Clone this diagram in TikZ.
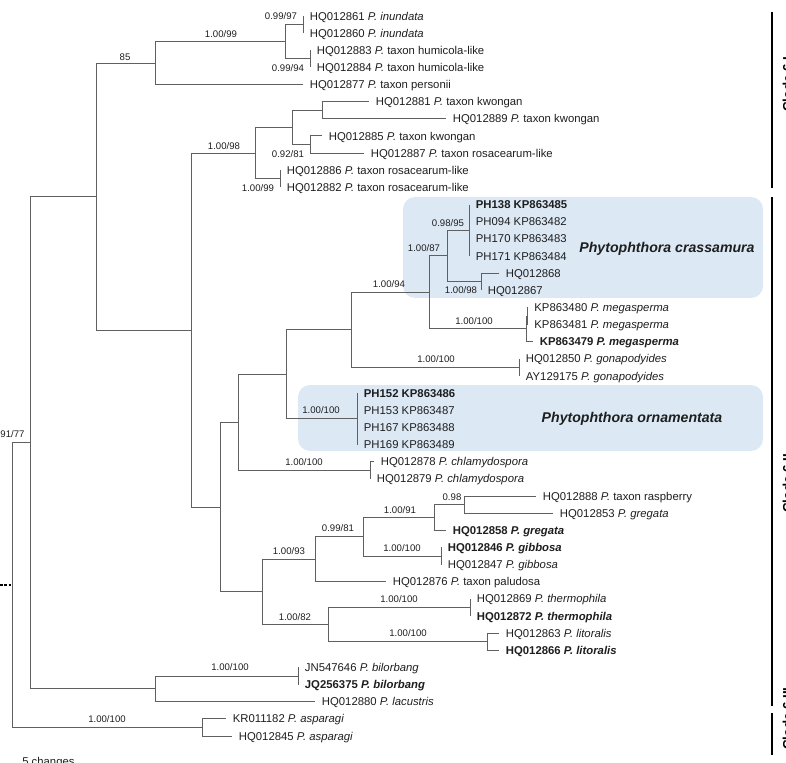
\documentclass[tikz,border=0pt]{standalone}
\usepackage{fontspec}
\setmainfont{Liberation Sans}
\usepackage{xcolor}
\definecolor{branchgray}{RGB}{96,96,96}
\definecolor{inkgray}{RGB}{30,30,30}
\definecolor{cladeblue}{RGB}{220,233,245}
\usepackage{tikz}
\tikzset{
  branch/.style={draw=branchgray, line width=0.75pt},
  leaf/.style={anchor=west, inner xsep=5pt, inner ysep=0pt,
               text height=6.1pt, text depth=0pt,
               font=\fontsize{8.5}{10}\selectfont, text=inkgray},
  supp/.style={inner sep=0pt, font=\fontsize{7.2}{8}\selectfont, text=inkgray},
  spname/.style={font=\fontsize{10.6}{12}\selectfont\bfseries\itshape, text=inkgray},
  cladebox/.style={fill=cladeblue, rounded corners=9pt},
  cladebar/.style={draw=black, line width=1.8pt},
  cladelab/.style={rotate=90, anchor=north west, inner sep=0pt,
                   font=\fontsize{10}{12}\selectfont\bfseries},
  rootstub/.style={draw=black, line width=1.2pt, dash pattern=on 2pt off 1.2pt},
}

\begin{document}
\begin{tikzpicture}[x=0.75pt, y=-0.75pt]
\useasboundingbox (0,0) rectangle (786,763);
\clip (0,0) rectangle (786,763);

% shaded boxes for the two new species
\fill[cladebox] (403,197) rectangle (763,298);
\fill[cladebox] (298,385) rectangle (763,451);
\node[spname] (tCras) at (667,249) {Phytophthora crassamura};
\node[spname] (tOrn) at (632,419) {Phytophthora ornamentata};

% internal nodes
\coordinate (stub) at (0,585.1);
\coordinate (root) at (12,585.1);
\coordinate (nK) at (30,442.7);
\coordinate (nI) at (96,196.6);
\coordinate (n85) at (155,63.1);
\coordinate (nIH) at (285,41.7);
\coordinate (nInu) at (303,24.6);
\coordinate (nHum) at (310,58.9);
\coordinate (nH) at (191,330.2);
\coordinate (n98) at (255,153.2);
\coordinate (nKK) at (292,127.4);
\coordinate (nKw) at (322,110.3);
\coordinate (nKR) at (310,144.6);
\coordinate (nRos) at (280,178.9);
\coordinate (nG) at (220,507.1);
\coordinate (nC) at (238,422.4);
\coordinate (nB) at (286,374.4);
\coordinate (nA) at (351,329.9);
\coordinate (n94) at (429,292.4);
\coordinate (nCras) at (447,256.0);
\coordinate (nPH) at (469,230.3);
\coordinate (nHQ) at (481,281.7);
\coordinate (nMeg) at (526,328.9);
\coordinate (nMeg2) at (527.5,316.0);
\coordinate (nGon) at (519,367.4);
\coordinate (nOrn) at (357,418.9);
\coordinate (nChl) at (370,470.3);
\coordinate (nF) at (262,591.9);
\coordinate (nD) at (315,559.2);
\coordinate (nGG) at (363,536.7);
\coordinate (nGreg) at (434,517.4);
\coordinate (nRasp) at (464,504.6);
\coordinate (nGib) at (441,556.0);
\coordinate (nE) at (328,624.6);
\coordinate (nTh) at (470,607.4);
\coordinate (nLit) at (487,641.7);
\coordinate (nJ) at (155,688.9);
\coordinate (nBil) at (298,676.0);
\coordinate (nAsp) at (202,727.4);

% taxa
\node[leaf] (l0) at (303,16.0) {HQ012861 \textit{P. inundata}};
\node[leaf] (l1) at (303,33.1) {HQ012860 \textit{P. inundata}};
\node[leaf] (l2) at (310,50.3) {HQ012883 \textit{P.} taxon humicola-like};
\node[leaf] (l3) at (310,67.4) {HQ012884 \textit{P.} taxon humicola-like};
\node[leaf] (l4) at (303,84.6) {HQ012877 \textit{P.} taxon personii};
\node[leaf] (l5) at (369,101.7) {HQ012881 \textit{P.} taxon kwongan};
\node[leaf] (l6) at (446,118.9) {HQ012889 \textit{P.} taxon kwongan};
\node[leaf] (l7) at (322,136.0) {HQ012885 \textit{P.} taxon kwongan};
\node[leaf] (l8) at (364,153.1) {HQ012887 \textit{P.} taxon rosacearum-like};
\node[leaf] (l9) at (280,170.3) {HQ012886 \textit{P.} taxon rosacearum-like};
\node[leaf] (l10) at (280,187.4) {HQ012882 \textit{P.} taxon rosacearum-like};
\node[leaf] (l11) at (469,204.6) {\textbf{PH138 KP863485}};
\node[leaf] (l12) at (469,221.7) {PH094 KP863482};
\node[leaf] (l13) at (469,238.9) {PH170 KP863483};
\node[leaf] (l14) at (469,256.0) {PH171 KP863484};
\node[leaf] (l15) at (499,273.1) {HQ012868};
\node[leaf] (l16) at (481,290.3) {HQ012867};
\node[leaf] (l17) at (527.5,307.4) {KP863480 \textit{P. megasperma}};
\node[leaf] (l18) at (527.5,324.6) {KP863481 \textit{P. megasperma}};
\node[leaf] (l19) at (533,341.7) {\textbf{KP863479 \textit{P. megasperma}}};
\node[leaf] (l20) at (519,358.9) {HQ012850 \textit{P. gonapodyides}};
\node[leaf] (l21) at (519,376.0) {AY129175 \textit{P. gonapodyides}};
\node[leaf] (l22) at (357,393.1) {\textbf{PH152 KP863486}};
\node[leaf] (l23) at (357,410.3) {PH153 KP863487};
\node[leaf] (l24) at (357,427.4) {PH167 KP863488};
\node[leaf] (l25) at (357,444.6) {PH169 KP863489};
\node[leaf] (l26) at (374,461.7) {HQ012878 \textit{P. chlamydospora}};
\node[leaf] (l27) at (370,478.9) {HQ012879 \textit{P. chlamydospora}};
\node[leaf] (l28) at (536,496.0) {HQ012888 \textit{P.} taxon raspberry};
\node[leaf] (l29) at (553,513.1) {HQ012853 \textit{P. gregata}};
\node[leaf] (l30) at (446,530.3) {\textbf{HQ012858 \textit{P. gregata}}};
\node[leaf] (l31) at (441,547.4) {\textbf{HQ012846 \textit{P. gibbosa}}};
\node[leaf] (l32) at (441,564.6) {HQ012847 \textit{P. gibbosa}};
\node[leaf] (l33) at (386,581.7) {HQ012876 \textit{P.} taxon paludosa};
\node[leaf] (l34) at (470,598.9) {HQ012869 \textit{P. thermophila}};
\node[leaf] (l35) at (470,616.0) {\textbf{HQ012872 \textit{P. thermophila}}};
\node[leaf] (l36) at (499,633.1) {HQ012863 \textit{P. litoralis}};
\node[leaf] (l37) at (499,650.3) {\textbf{HQ012866 \textit{P. litoralis}}};
\node[leaf] (l38) at (298,667.4) {JN547646 \textit{P. bilorbang}};
\node[leaf] (l39) at (298,684.6) {\textbf{JQ256375 \textit{P. bilorbang}}};
\node[leaf] (l40) at (315,701.7) {HQ012880 \textit{P. lacustris}};
\node[leaf] (l41) at (226,718.9) {KR011182 \textit{P. asparagi}};
\node[leaf] (l42) at (232,736.0) {HQ012845 \textit{P. asparagi}};
\node[leaf, inner xsep=0pt] (scale) at (22,761) {5 changes};

% branches
\draw[rootstub] (stub) -- (root);
\draw[branch] (root) |- (nK) (root) |- (nAsp);
\draw[branch] (nK) |- (nI) (nK) |- (nJ);
\draw[branch] (nI) |- (n85) (nI) |- (nH);
\draw[branch] (n85) |- (nIH) (n85) |- (l4.west);
\draw[branch] (nIH) |- (nInu) (nIH) |- (nHum);
\draw[branch] (nInu) |- (l0.west) (nInu) |- (l1.west);
\draw[branch] (nHum) |- (l2.west) (nHum) |- (l3.west);
\draw[branch] (nH) |- (n98) (nH) |- (nG);
\draw[branch] (n98) |- (nKK) (n98) |- (nRos);
\draw[branch] (nKK) |- (nKw) (nKK) |- (nKR);
\draw[branch] (nKw) |- (l5.west) (nKw) |- (l6.west);
\draw[branch] (nKR) |- (l7.west) (nKR) |- (l8.west);
\draw[branch] (nRos) |- (l9.west) (nRos) |- (l10.west);
\draw[branch] (nG) |- (nC) (nG) |- (nF);
\draw[branch] (nC) |- (nB) (nC) |- (nChl);
\draw[branch] (nB) |- (nA) (nB) |- (nOrn);
\draw[branch] (nA) |- (n94) (nA) |- (nGon);
\draw[branch] (n94) |- (nCras) (n94) |- (nMeg);
\draw[branch] (nCras) |- (nPH) (nCras) |- (nHQ);
\draw[branch] (nPH) |- (l11.west) (nPH) |- (l12.west) (nPH) |- (l13.west) (nPH) |- (l14.west);
\draw[branch] (nHQ) |- (l15.west) (nHQ) |- (l16.west);
\draw[branch] (nMeg) |- (nMeg2) (nMeg) |- (l19.west);
\draw[branch] (nMeg2) |- (l17.west) (nMeg2) |- (l18.west);
\draw[branch] (nGon) |- (l20.west) (nGon) |- (l21.west);
\draw[branch] (nOrn) |- (l22.west) (nOrn) |- (l23.west) (nOrn) |- (l24.west) (nOrn) |- (l25.west);
\draw[branch] (nChl) |- (l26.west) (nChl) |- (l27.west);
\draw[branch] (nF) |- (nD) (nF) |- (nE);
\draw[branch] (nD) |- (nGG) (nD) |- (l33.west);
\draw[branch] (nGG) |- (nGreg) (nGG) |- (nGib);
\draw[branch] (nGreg) |- (nRasp) (nGreg) |- (l30.west);
\draw[branch] (nRasp) |- (l28.west) (nRasp) |- (l29.west);
\draw[branch] (nGib) |- (l31.west) (nGib) |- (l32.west);
\draw[branch] (nE) |- (nTh) (nE) |- (nLit);
\draw[branch] (nTh) |- (l34.west) (nTh) |- (l35.west);
\draw[branch] (nLit) |- (l36.west) (nLit) |- (l37.west);
\draw[branch] (nJ) |- (nBil) (nJ) |- (l40.west);
\draw[branch] (nBil) |- (l38.west) (nBil) |- (l39.west);
\draw[branch] (nAsp) |- (l41.west) (nAsp) |- (l42.west);

% support values (posterior probability / bootstrap)
\node[supp] (s1) at (281,16.5) {0.99/97};
\node[supp] (s2) at (221,34) {1.00/99};
\node[supp] (s3) at (125,57) {85};
\node[supp] (s4) at (288,68) {0.99/94};
\node[supp] (s5) at (224,146) {1.00/98};
\node[supp] (s6) at (288,154) {0.92/81};
\node[supp] (s7) at (258,188) {1.00/99};
\node[supp] (s8) at (448,223) {0.98/95};
\node[supp] (s9) at (424,248) {1.00/87};
\node[supp] (s10) at (389,284) {1.00/94};
\node[supp] (s11) at (461,290) {1.00/98};
\node[supp] (s12) at (474,321) {1.00/100};
\node[supp] (s13) at (436,359) {1.00/100};
\node[supp] (s14) at (321,410) {1.00/100};
\node[supp] (s15) at (304,462) {1.00/100};
\node[supp] (s16) at (452,497) {0.98};
\node[supp] (s17) at (400,510) {1.00/91};
\node[supp] (s18) at (338,528) {0.99/81};
\node[supp] (s19) at (402,548) {1.00/100};
\node[supp] (s20) at (289,551) {1.00/93};
\node[supp] (s21) at (399,599) {1.00/100};
\node[supp] (s22) at (295,617) {1.00/82};
\node[supp] (s23) at (408,633) {1.00/100};
\node[supp] (s24) at (230,667) {1.00/100};
\node[supp] (s25) at (107,719) {1.00/100};
\node[supp] (s26) at (12.5,434) {91/77};

% clade bars
\draw[cladebar] (772,12) -- (772,188);
\draw[cladebar] (772,197) -- (772,706);
\draw[cladebar] (772,713) -- (772,755);
\node[cladelab] (c1) at (782.5,112) {Clade 6 I};
\node[cladelab] (c2) at (782.5,513) {Clade 6 II};
\node[cladelab] (c3) at (782.5,750) {Clade 6 III};
\end{tikzpicture}
\end{document}
